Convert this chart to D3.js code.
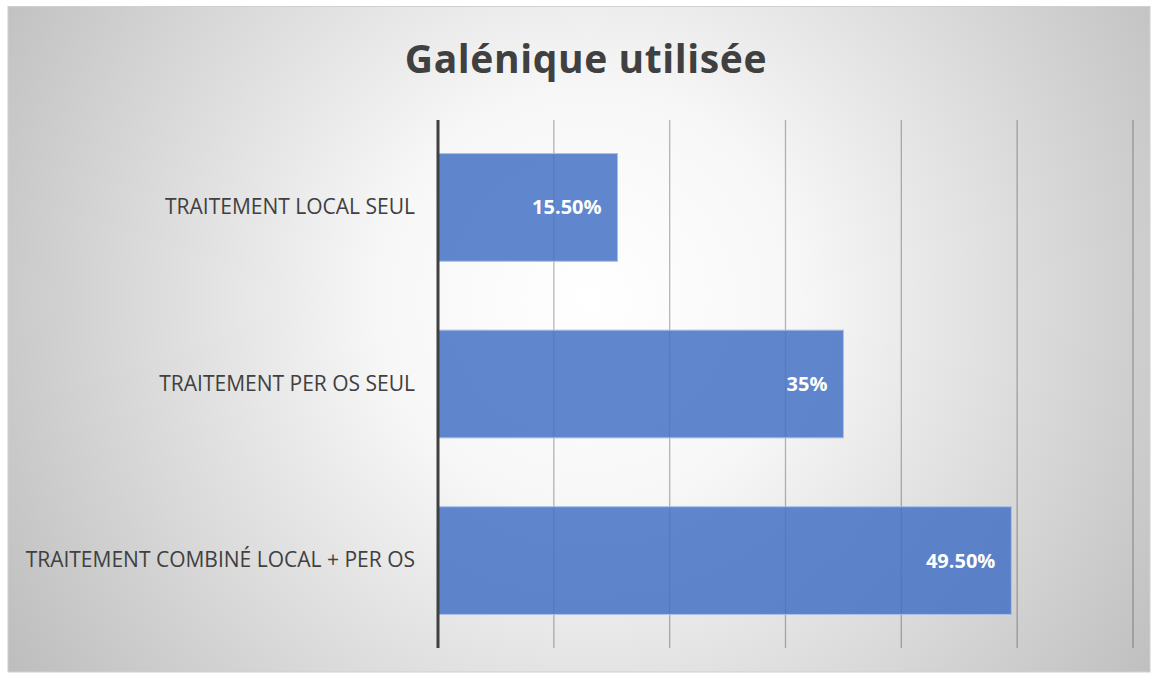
<!DOCTYPE html>
<html><head><meta charset="utf-8">
<script src="https://cdn.jsdelivr.net/npm/d3@7"></script>
<style>html,body{margin:0;padding:0;background:#fff;}svg{display:block;}</style>
</head><body>
<script>
const categories = ["TRAITEMENT LOCAL SEUL", "TRAITEMENT PER OS SEUL", "TRAITEMENT COMBINÉ LOCAL + PER OS"];
const values = [15.5, 35, 49.5];
const valueLabels = ["15.50%", "35%", "49.50%"];
const xTicks = [0, 10, 20, 30, 40, 50, 60];
const title = "Galénique utilisée";

const W = 1154, H = 675;
const svg = d3.select("body").append("svg").attr("width", W).attr("height", H);
const defs = svg.append("defs");
const rg = defs.append("radialGradient").attr("id","bg")
  .attr("gradientUnits","userSpaceOnUse").attr("cx",590).attr("cy",300).attr("r",700);
rg.append("stop").attr("offset","0%").attr("stop-color","#ffffff");
rg.append("stop").attr("offset","30%").attr("stop-color","#f7f7f7");
rg.append("stop").attr("offset","100%").attr("stop-color","#bcbcbc");

svg.append("rect").attr("x",8).attr("y",6.5).attr("width",1142).attr("height",665.5)
  .attr("fill","url(#bg)").attr("stroke","#d0d0d0").attr("stroke-width",1);

const m = {left:438, right:1133, top:120, bottom:648};
const x = d3.scaleLinear().domain([0,60]).range([m.left, m.right]);
const y = d3.scaleBand().domain(categories).range([m.top, m.bottom]).paddingInner(0.39).paddingOuter(0.19);

// gridlines
svg.append("g").selectAll("line").data(xTicks.slice(1)).join("line")
  .attr("x1",d=>x(d)).attr("x2",d=>x(d)).attr("y1",m.top).attr("y2",m.bottom)
  .attr("stroke","#000").attr("stroke-opacity",0.28).attr("stroke-width",1.3);

// bars
svg.append("g").selectAll("rect").data(values).join("rect")
  .attr("x",x(0)).attr("y",(d,i)=>y(categories[i]))
  .attr("width",d=>x(d)-x(0)).attr("height",y.bandwidth())
  .attr("fill","#4472c4").attr("fill-opacity",0.85)
  .attr("stroke","#a9bfe6").attr("stroke-width",1);

// value labels
svg.append("g").selectAll("text").data(values).join("text")
  .attr("x",d=>x(d)-16).attr("y",(d,i)=>y(categories[i])+y.bandwidth()/2)
  .attr("dy","0.35em").attr("text-anchor","end")
  .attr("font-family","'Open Sans', sans-serif").attr("font-weight","bold")
  .attr("font-size",20).attr("fill","#fff")
  .text((d,i)=>valueLabels[i]);

// axis line
svg.append("line").attr("x1",x(0)).attr("x2",x(0)).attr("y1",m.top).attr("y2",m.bottom)
  .attr("stroke","#404040").attr("stroke-width",3);

// category labels
const yAxis = d3.axisLeft(y).tickSize(0).tickPadding(23);
const ga = svg.append("g").attr("transform",`translate(${x(0)},0)`).call(yAxis);
ga.select(".domain").remove();
ga.selectAll("text").attr("font-family","'Open Sans', sans-serif").attr("font-size",21)
  .attr("fill","#404040").attr("letter-spacing","0px");

// title
svg.append("text").attr("x",586).attr("y",73).attr("text-anchor","middle")
  .attr("font-family","'Open Sans', sans-serif").attr("font-weight","bold")
  .attr("font-size",39).attr("fill","#404040").attr("letter-spacing","0.6px").text(title);
</script>
</body></html>
